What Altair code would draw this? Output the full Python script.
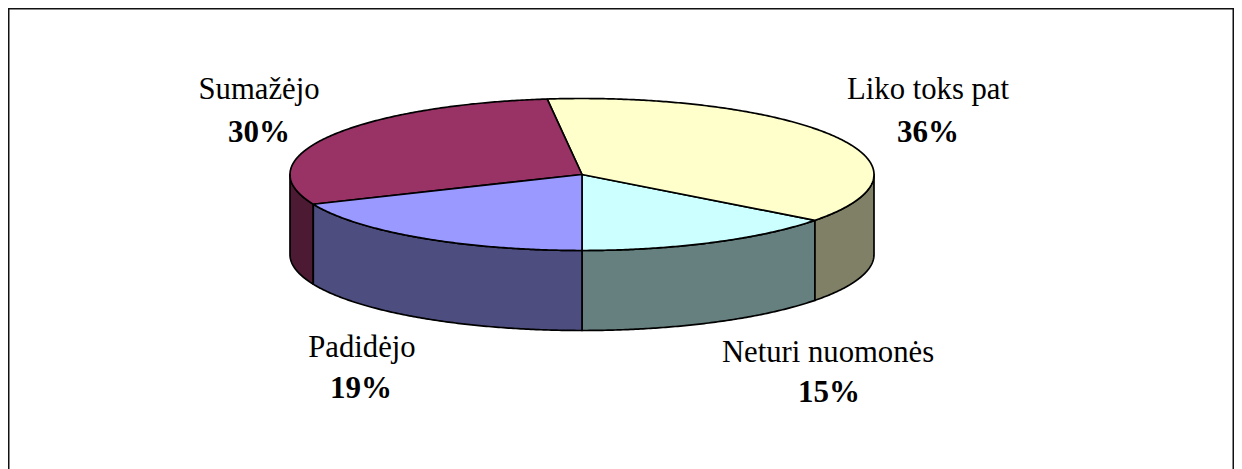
import math
import altair as alt
import pandas as pd

# Data
categories = ["Neturi nuomonės", "Liko toks pat", "Sumažėjo", "Padidėjo"]
printed_labels = ["15%", "36%", "30%", "19%"]
drawn_shares = [14.7, 37.2, 29.5, 18.6]   # shares as drawn (angle on the disc)
top_colors = ["#CCFFFF", "#FFFFCC", "#993366", "#9999FF"]
side_colors = ["#668080", "#808066", "#4D1A33", "#4D4D80"]

# Layout (pixels inside the chart)
W, H = 1226, 461
CX, CY, RX, RY, DEPTH = 574, 166.5, 292, 76, 80
name_x = [820, 920, 251, 354]
name_y = [354, 91, 91, 349]
pct_x = [821, 920, 251, 353]
pct_y = [394, 134, 134, 390]


def pt(deg, dy=0.0):
    a = math.radians(deg)
    return [CX + RX * math.sin(a), CY + RY * math.cos(a) + dy]


def arc(a0, a1, dy=0.0):
    n = max(2, int(abs(a1 - a0) * 2))
    return [pt(a0 + (a1 - a0) * i / n, dy) for i in range(n + 1)]


def poly(ring, fill):
    return {
        "type": "Feature",
        "geometry": {"type": "Polygon", "coordinates": [ring + [ring[0]]]},
        "properties": {"fill": fill},
    }


# cumulative angles, clockwise from the bottom of the disc
edges = [0.0]
for s in drawn_shares:
    edges.append(edges[-1] + s * 3.6)

sides, tops = [], []
for i in range(len(categories)):
    a0, a1 = edges[i], edges[i + 1]
    tops.append(poly([[CX, CY]] + arc(a0, a1), top_colors[i]))
    # only the front half (-90..90 degrees from bottom) shows a wall
    for lo, hi in ((0, 90), (270, 360)):
        s0, s1 = max(a0, lo), min(a1, hi)
        if s1 > s0:
            sides.append(poly(arc(s0, s1) + arc(s1, s0, DEPTH), side_colors[i]))

shapes = alt.Data(values=sides + tops)

proj = alt.Projection(type="identity", scale=1, translate=[0, 0]).to_dict()

frame_ring = [[0.75, 0.75], [W - 0.75, 0.75], [W - 0.75, H + 20], [0.75, H + 20]]
frame = (
    alt.Chart(alt.Data(values=[poly(frame_ring, "none")]))
    .mark_geoshape(fill=None, stroke="#111111", strokeWidth=1.5, clip=False)
    .project(**proj)
)

pie = (
    alt.Chart(shapes)
    .mark_geoshape(stroke="#000000", strokeWidth=1.7, strokeJoin="round")
    .encode(fill=alt.Fill("properties.fill:N", scale=None))
    .project(**proj)
)

names = pd.DataFrame({"t": categories, "lon": name_x, "lat": name_y})
pcts = pd.DataFrame({"t": printed_labels, "lon": pct_x, "lat": pct_y})

name_text = (
    alt.Chart(names)
    .mark_text(font="Liberation Serif", fontSize=30.7, color="#000000", align="center", baseline="alphabetic")
    .encode(longitude="lon:Q", latitude="lat:Q", text="t:N")
    .project(**proj)
)
pct_text = (
    alt.Chart(pcts)
    .mark_text(font="Liberation Serif", fontSize=31, fontWeight="bold", color="#000000", align="center", baseline="alphabetic")
    .encode(longitude="lon:Q", latitude="lat:Q", text="t:N")
    .project(**proj)
)

chart = (
    alt.layer(frame, pie, name_text, pct_text)
    .properties(width=W, height=H, padding=0, autosize=alt.AutoSizeParams(type="none"), background="#FFFFFF")
    .configure_view(stroke=None)
)

chart.save("out.html", embed_options={"renderer": "svg", "actions": False})
